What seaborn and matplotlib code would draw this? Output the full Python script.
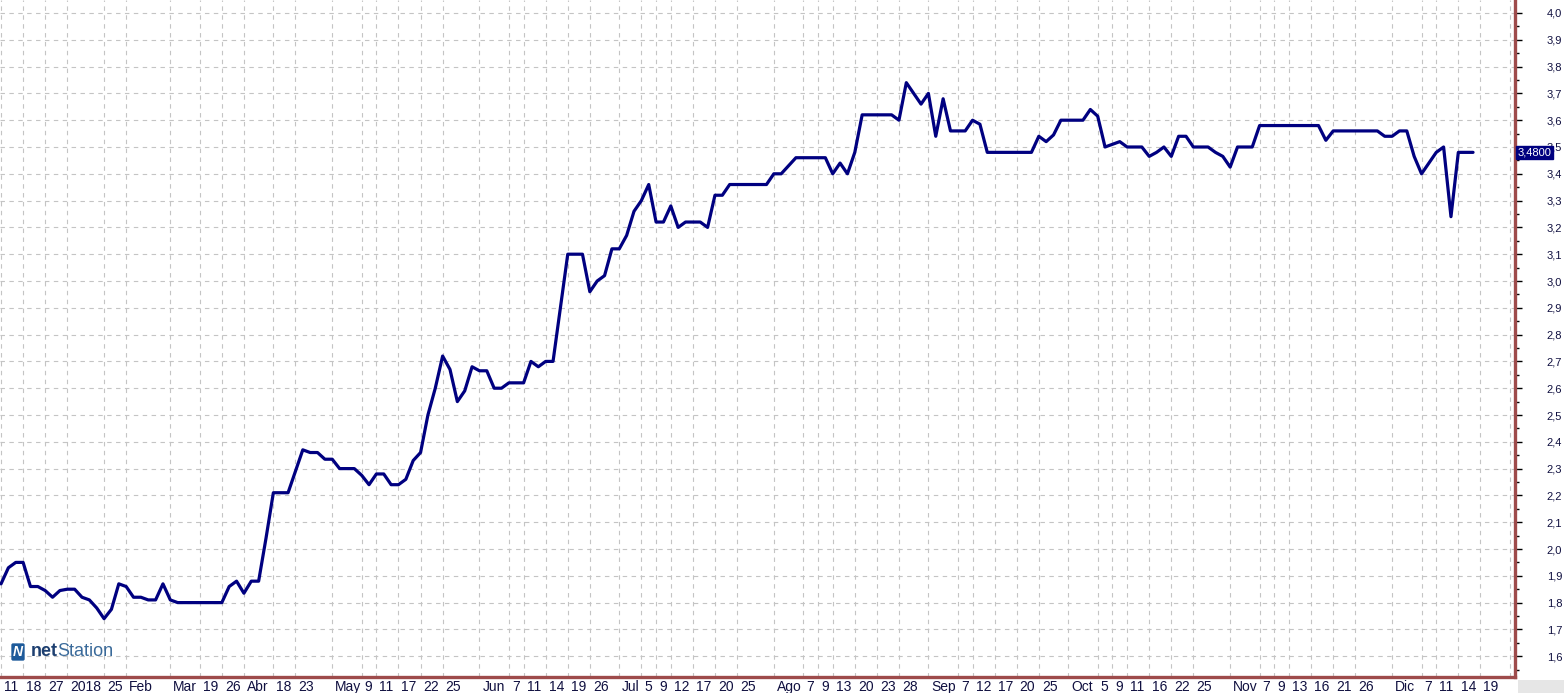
import matplotlib
matplotlib.use("Agg")
import matplotlib.pyplot as plt
import matplotlib.transforms as mtransforms
from matplotlib.patches import Rectangle
from matplotlib.ticker import FixedLocator, MultipleLocator, FuncFormatter
import seaborn as sns

# --- datos (cierre diario, índice de rueda) ---
PRICES = [
    1.87, 1.93, 1.95, 1.95, 1.86, 1.86, 1.845, 1.82, 1.845, 1.85,
    1.85, 1.82, 1.81, 1.78, 1.74, 1.775, 1.87, 1.86, 1.82, 1.82,
    1.81, 1.81, 1.87, 1.81, 1.80, 1.80, 1.80, 1.80, 1.80, 1.80,
    1.80, 1.86, 1.88, 1.835, 1.88, 1.88, 2.04, 2.21, 2.21, 2.21,
    2.29, 2.37, 2.36, 2.36, 2.335, 2.335, 2.30, 2.30, 2.30, 2.275,
    2.24, 2.28, 2.28, 2.24, 2.24, 2.26, 2.33, 2.36, 2.50, 2.60,
    2.72, 2.67, 2.55, 2.59, 2.68, 2.665, 2.665, 2.60, 2.60, 2.62,
    2.62, 2.62, 2.70, 2.68, 2.70, 2.70, 2.90, 3.10, 3.10, 3.10,
    2.96, 3.00, 3.02, 3.12, 3.12, 3.17, 3.26, 3.30, 3.36, 3.22,
    3.22, 3.28, 3.20, 3.22, 3.22, 3.22, 3.20, 3.32, 3.32, 3.36,
    3.36, 3.36, 3.36, 3.36, 3.36, 3.40, 3.40, 3.43, 3.46, 3.46,
    3.46, 3.46, 3.46, 3.40, 3.44, 3.40, 3.48, 3.62, 3.62, 3.62,
    3.62, 3.62, 3.60, 3.74, 3.70, 3.66, 3.70, 3.54, 3.68, 3.56,
    3.56, 3.56, 3.60, 3.585, 3.48, 3.48, 3.48, 3.48, 3.48, 3.48,
    3.48, 3.54, 3.52, 3.545, 3.60, 3.60, 3.60, 3.60, 3.64, 3.615,
    3.50, 3.51, 3.52, 3.50, 3.50, 3.50, 3.465, 3.48, 3.50, 3.465,
    3.54, 3.54, 3.50, 3.50, 3.50, 3.48, 3.465, 3.425, 3.50, 3.50,
    3.50, 3.58, 3.58, 3.58, 3.58, 3.58, 3.58, 3.58, 3.58, 3.58,
    3.525, 3.56, 3.56, 3.56, 3.56, 3.56, 3.56, 3.56, 3.54, 3.54,
    3.56, 3.56, 3.465, 3.40, 3.44, 3.48, 3.50, 3.24, 3.48, 3.48,
    3.48,
]
LAST_PRICE = 3.48

XTICK_POS = [0, 3, 6, 9, 14, 17, 23, 27, 30, 33,
             37, 40, 45, 49, 51, 54, 57, 60, 65, 69,
             71, 74, 77, 80, 84, 87, 89, 91, 94, 97,
             100, 105, 109, 111, 113, 116, 119, 122, 126, 130,
             132, 135, 138, 141, 145, 149, 151, 153, 156, 159,
             162, 167, 171, 173, 175, 178, 181, 184, 189, 193,
             195, 198, 201, 205]
XTICK_LAB = ['11', '18', '27', '2018', '25', 'Feb', 'Mar', '19', '26', 'Abr',
             '18', '23', 'May', '9', '11', '17', '22', '25', 'Jun', '7',
             '11', '14', '19', '26', 'Jul', '5', '9', '12', '17', '20',
             '25', 'Ago', '7', '9', '13', '20', '23', '28', 'Sep', '7',
             '12', '17', '20', '25', 'Oct', '5', '9', '11', '16', '22',
             '25', 'Nov', '7', '9', '13', '16', '21', '26', 'Dic', '7',
             '11', '14', '19', '']

# --- estilo ---
W, H = 1564, 693
LINE = '#000080'
SPINE = '#9e4b4b'
TXT = '#101040'

sns.set_style('white')
plt.rcParams['font.family'] = ['Liberation Sans', 'DejaVu Sans']

fig = plt.figure(figsize=(W / 100, H / 100), dpi=100)
ax = fig.add_axes([0, 16 / H, 1515 / W, 1 - 16 / H])

days = list(range(len(PRICES)))
sns.lineplot(x=days, y=PRICES, ax=ax, color=LINE, linewidth=2.3, zorder=3)

ax.set_xlim(-0.14, 205.7)
ax.set_ylim(1.5224, 4.0485)
ax.set_xlabel('')
ax.set_ylabel('')

# grilla punteada
ax.xaxis.set_major_locator(FixedLocator(XTICK_POS))
ax.set_xticklabels(XTICK_LAB)
ax.yaxis.set_major_locator(MultipleLocator(0.1))
ax.yaxis.set_minor_locator(MultipleLocator(0.05))
ax.yaxis.set_major_formatter(FuncFormatter(lambda v, p: f'{v:.1f}'.replace('.', ',')))
ax.grid(True, which='major', color='#c4c4c4', linestyle=(0, (4, 4)), linewidth=0.8)

for s in ['left', 'top']:
    ax.spines[s].set_visible(False)
for s in ['right', 'bottom']:
    ax.spines[s].set_color(SPINE)
    ax.spines[s].set_linewidth(2.4)

# eje y a la derecha
ax.yaxis.tick_right()
ax.tick_params(axis='y', which='major', direction='out', length=5, width=1,
               color='black', labelsize=8, labelcolor=TXT, pad=29)
ax.tick_params(axis='y', which='minor', direction='out', length=3, width=1, color='black')
for lab in ax.get_yticklabels():
    lab.set_horizontalalignment('right')

# eje x: separadores y etiquetas a la derecha de cada marca
ax.tick_params(axis='x', direction='out', length=11, width=1, color='black',
               labelsize=10, labelcolor=TXT, pad=-9)
shift = mtransforms.ScaledTranslation(3 / 100, 0, fig.dpi_scale_trans)
for lab in ax.get_xticklabels():
    lab.set_horizontalalignment('left')
    lab.set_transform(lab.get_transform() + shift)

# último precio
ax.text(1.0015, LAST_PRICE, '3,4800', transform=ax.get_yaxis_transform(),
        ha='left', va='center', fontsize=8, color='white', clip_on=False, zorder=5,
        bbox=dict(boxstyle='square,pad=0.15', fc=LINE, ec=LINE))

# esquina gris
fig.patches.append(Rectangle((1518 / W, 0), (W - 1518) / W, 13 / H,
                             transform=fig.transFigure, fc='#e6e6e6', ec='none'))

# logo
fig.text(13 / W, 1 - 652 / H, 'N', ha='left', va='center', fontsize=10,
         fontweight='bold', fontstyle='italic', color='white',
         bbox=dict(boxstyle='round,pad=0.12', fc='#1d5a9a', ec='none'))
fig.text(31 / W, 1 - 652 / H, 'net', ha='left', va='center', fontsize=13,
         fontweight='bold', color='#1d3f70')
fig.text(57 / W, 1 - 652 / H, 'Station', ha='left', va='center', fontsize=13,
         color='#3a6a9a')

plt.savefig('out.png', dpi=100)
